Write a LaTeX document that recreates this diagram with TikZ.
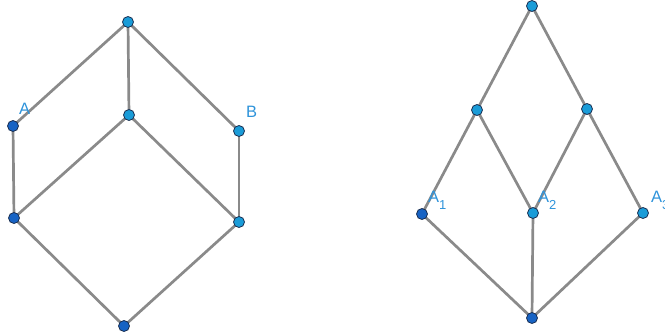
\documentclass[tikz,border=0pt]{standalone}
\usepackage{fontspec}
\setmainfont{Liberation Sans}
\usetikzlibrary{backgrounds}
\definecolor{edgegray}{HTML}{8A8A8A}
\definecolor{darkpt}{HTML}{1763C4}
\definecolor{lightpt}{HTML}{1A9CD8}
\definecolor{rimcol}{HTML}{1B2F52}
\definecolor{labcol}{HTML}{2E93DA}
\newcommand\lowidx[1]{\raisebox{-7pt}{\fontsize{13}{13}\selectfont #1}}
\tikzset{
  edge/.style={draw=edgegray, line width=2.7pt},
  darkvert/.style={circle, fill=darkpt, draw=rimcol, line width=0.8pt, inner sep=0pt, minimum size=11pt},
  lightvert/.style={circle, fill=lightpt, draw=rimcol, line width=0.8pt, inner sep=0pt, minimum size=11pt},
  vlabel/.style={anchor=base west, inner sep=0pt, text=labcol, font=\fontsize{16.5}{19}\selectfont}
}
\begin{document}
\begin{tikzpicture}[x=1pt, y=-1pt]
\useasboundingbox (0,0) rectangle (665,336);
% left lattice
\node[lightvert] (lt) at (128,22) {};
\node[darkvert]  (la) at (13,126) {};
\node[lightvert] (lm) at (129,115) {};
\node[lightvert] (lb) at (239,131) {};
\node[darkvert]  (ll) at (14,218) {};
\node[lightvert] (lr) at (239,222) {};
\node[darkvert]  (lo) at (124,326) {};
% right lattice
\node[lightvert] (rt) at (532,6) {};
\node[lightvert] (rl) at (477,110) {};
\node[lightvert] (rr) at (587,109) {};
\node[darkvert]  (r1) at (422,214) {};
\node[lightvert] (r2) at (533,213) {};
\node[lightvert] (r3) at (643,213) {};
\node[darkvert]  (ro) at (532,318) {};
% edges, kept beneath the vertices
\begin{scope}[on background layer]
\foreach \a/\b in {lt/la, lt/lm, lt/lb, la/ll, lm/ll, lm/lr, lb/lr, ll/lo, lr/lo,
                   rt/rl, rt/rr, rl/r1, rl/r2, rr/r2, rr/r3, r1/ro, r2/ro, r3/ro}
  \draw[edge] (\a.center) -- (\b.center);
\end{scope}
% labels
\node[vlabel] (labA) at (19,115) {A};
\node[vlabel] (labB) at (246,118) {B};
\node[vlabel] (lab1) at (428,203) {A\lowidx{1}};
\node[vlabel] (lab2) at (538,203) {A\lowidx{2}};
\node[vlabel] (lab3) at (651,203) {A\lowidx{3}};
\end{tikzpicture}
\end{document}
